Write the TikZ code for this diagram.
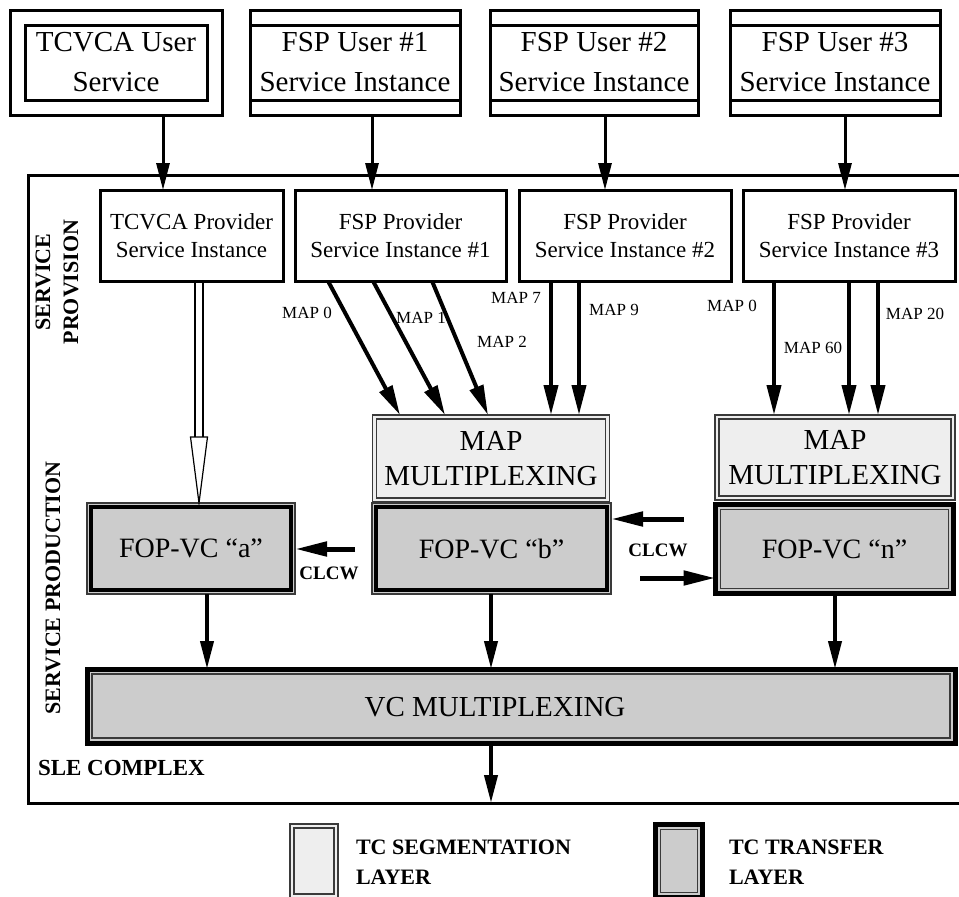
\documentclass[tikz,border=0pt]{standalone}
\usepackage{fontspec}
\setmainfont{Liberation Serif}
\usetikzlibrary{arrows.meta}

\definecolor{segfill}{HTML}{EEEEEE}
\definecolor{xferfill}{HTML}{CCCCCC}
\definecolor{rulegray}{HTML}{3A3A3A}

\newcommand{\fsz}[2]{\fontsize{#1}{#2}\selectfont}

\tikzset{
  base/.style={inner sep=0pt, outer sep=0pt, align=center},
  userbox/.style={base, draw, line width=3pt, font=\fsz{29}{40}},
  % user service box with an inner frame
  frameduser/.style={userbox, path picture={
      \draw[line width=3pt]
        ([shift={(15pt,-15pt)}]path picture bounding box.north west) rectangle
        ([shift={(-15pt,15pt)}]path picture bounding box.south east);}},
  % user service instance box with top and bottom bands
  bandeduser/.style={userbox, path picture={
      \draw[line width=3pt]
        ([yshift=-15pt]path picture bounding box.north west) --
        ([yshift=-15pt]path picture bounding box.north east)
        ([yshift=15pt]path picture bounding box.south west) --
        ([yshift=15pt]path picture bounding box.south east);}},
  provbox/.style={base, draw, line width=3pt, fill=white, font=\fsz{23}{28}},
  % TC segmentation layer: thin double frame
  segbox/.style={base, draw=rulegray, line width=1.3pt, fill=segfill, font=\fsz{29}{35},
    path picture={
      \draw[rulegray, line width=1.2pt]
        ([shift={(4pt,-4pt)}]path picture bounding box.north west) rectangle
        ([shift={(-4pt,4pt)}]path picture bounding box.south east);}},
  % TC transfer layer, thin outside and heavy inside
  fopbox/.style={base, draw=rulegray, line width=1.3pt, fill=xferfill, font=\fsz{28}{34},
    path picture={
      \draw[black, line width=4pt]
        ([shift={(4pt,-4pt)}]path picture bounding box.north west) rectangle
        ([shift={(-4pt,4pt)}]path picture bounding box.south east);}},
  % TC transfer layer, heavy outside and thin inside
  xferbox/.style={base, draw=black, line width=5pt, fill=xferfill, font=\fsz{28}{34},
    path picture={
      \draw[rulegray, line width=1.2pt]
        ([shift={(5pt,-5pt)}]path picture bounding box.north west) rectangle
        ([shift={(-5pt,5pt)}]path picture bounding box.south east);}},
  flow/.style={line width=3pt, -{Triangle[length=27pt,width=13pt]}},
  mapflow/.style={line width=4pt, -{Triangle[length=30pt,width=14pt]}},
  downflow/.style={line width=4pt, -{Triangle[length=28pt,width=13pt]}},
  clcwflow/.style={line width=5pt, -{Triangle[length=32pt,width=14pt]}},
  maplabel/.style={font=\fsz{17}{20}},
  tag/.style={base, font=\bfseries\fsz{22}{28}},
  legendtext/.style={base, align=left, anchor=west, font=\bfseries\fsz{22}{30}},
}

\begin{document}
\begin{tikzpicture}[x=1pt, y=-1pt]
\useasboundingbox (0,0) rectangle (959,897);

% SLE complex frame
\node[base, draw, line width=3pt, minimum width=934pt, minimum height=628pt] (sle) at (495,489) {};

% user side
\node[frameduser, minimum width=212pt, minimum height=105pt] (tcu) at (116,62.5) {TCVCA User\\Service};
\node[bandeduser, minimum width=210pt, minimum height=105pt] (fu1) at (355,62.5) {FSP User \#1\\Service Instance};
\node[bandeduser, minimum width=208pt, minimum height=105pt] (fu2) at (594,62.5) {FSP User \#2\\Service Instance};
\node[bandeduser, minimum width=210pt, minimum height=105pt] (fu3) at (835,62.5) {FSP User \#3\\Service Instance};

% provider service instances
\node[provbox, minimum width=183pt, minimum height=91pt] (tcp) at (191.5,235.5) {TCVCA Provider\\Service Instance};
\node[provbox, minimum width=211pt, minimum height=91pt] (fp1) at (400.5,235.5) {FSP Provider\\Service Instance \#1};
\node[provbox, minimum width=212pt, minimum height=91pt] (fp2) at (625,235.5) {FSP Provider\\Service Instance \#2};
\node[provbox, minimum width=212pt, minimum height=91pt] (fp3) at (849,235.5) {FSP Provider\\Service Instance \#3};

% MAP multiplexing
\node[segbox, minimum width=237pt, minimum height=87pt] (mm1) at (491,458.5) {MAP\\MULTIPLEXING};
\node[segbox, minimum width=240pt, minimum height=85pt] (mm2) at (835,457.5) {MAP\\MULTIPLEXING};

% FOP per virtual channel
\node[fopbox, minimum width=208pt, minimum height=91pt] (fa) at (191,548.5) {FOP-VC “a”};
\node[fopbox, minimum width=239pt, minimum height=91pt] (fb) at (491.5,548.5) {FOP-VC “b”};
\node[xferbox, minimum width=238pt, minimum height=89pt] (fn) at (834.5,549) {FOP-VC “n”};

% VC multiplexing
\node[xferbox, minimum width=868pt, minimum height=74pt] (vc) at (521,706) {};
\node[base, font=\fsz{29}{34}] (vclabel) at (495,707) {VC MULTIPLEXING};

% side labels
\node[tag, rotate=90] (provtag) at (57,282) {SERVICE\\PROVISION};
\node[tag, rotate=90] (prodtag) at (53,588) {SERVICE PRODUCTION};
\node[tag, anchor=west, font=\bfseries\fsz{23}{28}] (sletag) at (38,768) {SLE COMPLEX};

% user to provider
\coordinate (xa) at (163,0);
\coordinate (xb) at (372,0);
\coordinate (xc) at (605,0);
\coordinate (xd) at (845,0);
\draw[flow] (tcu.south -| xa) -- (tcp.north -| xa);
\draw[flow] (fu1.south -| xb) -- (fp1.north -| xb);
\draw[flow] (fu2.south -| xc) -- (fp2.north -| xc);
\draw[flow] (fu3.south -| xd) -- (fp3.north -| xd);

% TCVCA provider to FOP-VC "a" (hollow double arrow)
\coordinate (dl) at (195,437);
\coordinate (dr) at (203,437);
\coordinate (hl) at (190.5,437);
\coordinate (hr) at (207.5,437);
\coordinate (dt) at (199,0);
\draw[line width=1.2pt] (tcp.south -| dl) -- (dl);
\draw[line width=1.2pt] (tcp.south -| dr) -- (dr);
\draw[line width=1.2pt, fill=white, line join=miter] (hl) -- (hr) -- (fa.north -| dt) -- cycle;

% MAP channels
\foreach \s/\e in {328/400, 373/445, 432/488} {
  \coordinate (ms) at (\s,0);
  \coordinate (me) at (\e,0);
  \draw[mapflow] (fp1.south -| ms) -- (mm1.north -| me);
}
\foreach \s in {551, 579} {
  \coordinate (ms) at (\s,0);
  \draw[mapflow] (fp2.south -| ms) -- (mm1.north -| ms);
}
\foreach \s in {774, 849, 878} {
  \coordinate (ms) at (\s,0);
  \draw[mapflow] (fp3.south -| ms) -- (mm2.north -| ms);
}
\node[maplabel] (m0a) at (307,313) {MAP 0};
\node[maplabel] (m1) at (421,318) {MAP 1};
\node[maplabel] (m2) at (502,342) {MAP 2};
\node[maplabel] (m7) at (516,298) {MAP 7};
\node[maplabel] (m9) at (614,310) {MAP 9};
\node[maplabel] (m0b) at (732,306) {MAP 0};
\node[maplabel] (m60) at (813,348) {MAP 60};
\node[maplabel] (m20) at (915,314) {MAP 20};

% CLCW reports
\coordinate (c1) at (355,549);
\coordinate (c2) at (684,519);
\coordinate (c3) at (640,578);
\draw[clcwflow] (c1) -- (c1 -| fa.east);
\draw[clcwflow] (c2) -- (c2 -| fb.east);
\draw[clcwflow] (c3) -- (c3 -| fn.west);
\node[base, font=\bfseries\fsz{19}{22}] (clcw1) at (329,573) {CLCW};
\node[base, font=\bfseries\fsz{19}{22}] (clcw2) at (658,550) {CLCW};

% FOP to VC multiplexing and out
\coordinate (va) at (207,0);
\coordinate (vb) at (491,0);
\coordinate (vn) at (835,0);
\draw[downflow] (fa.south -| va) -- (vc.north -| va);
\draw[downflow] (fb.south -| vb) -- (vc.north -| vb);
\draw[downflow] (fn.south -| vn) -- (vc.north -| vn);
\draw[downflow] (vc.south -| vb) -- (sle.south -| vb);

% legend
\node[segbox, minimum width=48pt, minimum height=74pt] (segicon) at (314,861) {};
\node[xferbox, minimum width=47pt, minimum height=73pt] (xfericon) at (679,861) {};
\node[legendtext] (seglabel) at (356,862) {TC SEGMENTATION\\LAYER};
\node[legendtext] (xferlabel) at (729,862) {TC TRANSFER\\LAYER};

\end{tikzpicture}
\end{document}
